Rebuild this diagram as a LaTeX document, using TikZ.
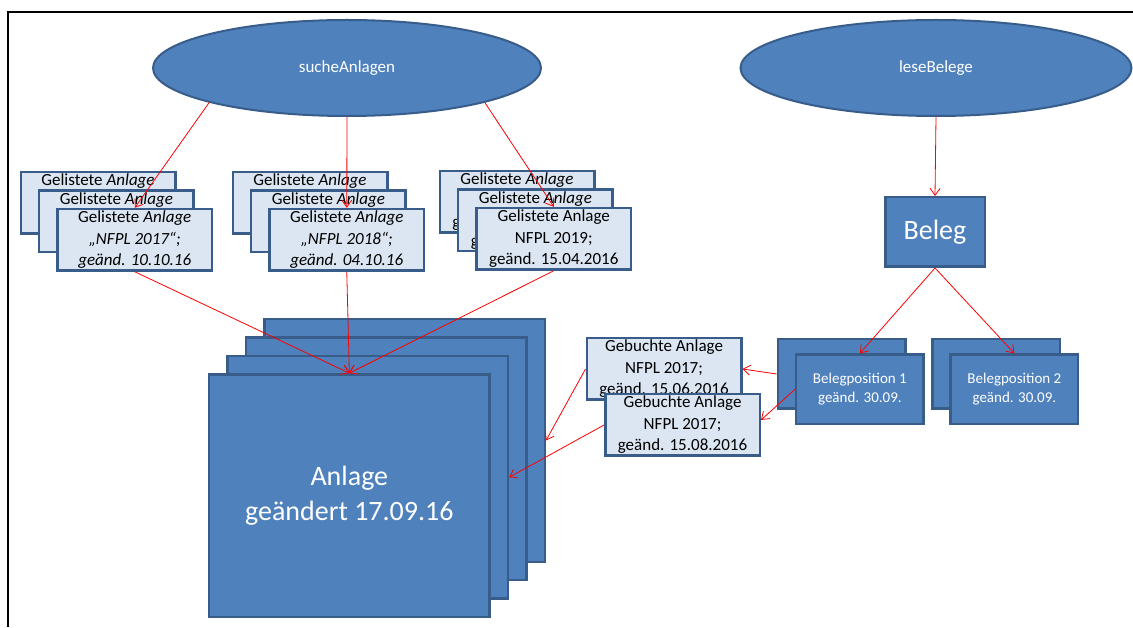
\documentclass[tikz,border=0pt]{standalone}
\usepackage{fontspec}
\setmainfont{Carlito}
\usetikzlibrary{shapes.geometric, arrows.meta}
\definecolor{boxblue}{HTML}{4F81BD}
\definecolor{boxline}{HTML}{385D8A}
\definecolor{boxlight}{HTML}{DCE6F2}
\tikzstyle{method} = [ellipse, minimum width=388pt, minimum height=96pt, inner sep=0pt, text centered, fill=boxblue, draw=boxline, line width=2pt, text=white, font=\fontsize{17}{20}\selectfont]
\tikzstyle{listed} = [rectangle, minimum width=154.5pt, minimum height=61.5pt, inner sep=0pt, align=center, fill=boxlight, draw=boxline, line width=2.5pt, font=\fontsize{17}{21.5}\selectfont]
\tikzstyle{position} = [rectangle, minimum width=127.5pt, minimum height=69.5pt, inner sep=0pt, align=center, fill=boxblue, draw=boxline, line width=2.5pt, text=white, font=\fontsize{15}{19}\selectfont]
\tikzstyle{voucher} = [position, minimum width=99.5pt, font=\fontsize{28}{34}\selectfont]
\tikzstyle{asset} = [rectangle, minimum width=280.5pt, minimum height=242.5pt, inner sep=0pt, align=center, fill=boxblue, draw=boxline, line width=2.5pt, text=white, font=\fontsize{28}{35}\selectfont]
\tikzstyle{arrow} = [red, line width=0.8pt, -{Straight Barb[length=7pt,width=10pt]}]

\begin{document}
\begin{tikzpicture}[x=1pt, y=1pt, node distance=26pt]
\useasboundingbox (0,0) rectangle (1133,627);

% Frame
\draw [line width=1.5pt] (8,0) -- (8,615) -- (1133,615);

% Methods
\node (such) [method] at (347,559) {sucheAnlagen};
\node (lese) [method, minimum width=391pt] at (936,559) {leseBelege};

% Anlage stack
\node (anl1) [asset] at (404.5,186.5) {};
\node (anl2) [asset, below left of=anl1] {};
\node (anl3) [asset, below left of=anl2] {};
\node (anl4) [asset, below left of=anl3] {Anlage\\geändert 17.09.16};

% Gelistete Anlagen
\node (glA1) [listed] at (98,424) {Gelistete \textit{Anlage}\\\textit{„NFPL 2017“;}\\\textit{geänd. 10.10.16}};
\node (glA2) [listed, below right of=glA1] {Gelistete \textit{Anlage}\\\textit{„NFPL 2017“;}\\\textit{geänd. 10.10.16}};
\node (glA3) [listed, below right of=glA2] {Gelistete \textit{Anlage}\\\textit{„NFPL 2017“;}\\\textit{geänd. 10.10.16}};
\node (glB1) [listed] at (310,424) {Gelistete \textit{Anlage}\\\textit{„NFPL 2018“;}\\\textit{geänd. 04.10.16}};
\node (glB2) [listed, below right of=glB1] {Gelistete \textit{Anlage}\\\textit{„NFPL 2018“;}\\\textit{geänd. 04.10.16}};
\node (glB3) [listed, below right of=glB2] {Gelistete \textit{Anlage}\\\textit{„NFPL 2018“;}\\\textit{geänd. 04.10.16}};
\node (glC1) [listed] at (517,425) {Gelistete \textit{Anlage}\\NFPL 2019;\\geänd. 15.04.2016};
\node (glC2) [listed, below right of=glC1] {Gelistete \textit{Anlage}\\NFPL 2019;\\geänd. 15.04.2016};
\node (glC3) [listed, below right of=glC2] {Gelistete Anlage\\NFPL 2019;\\geänd. 15.04.2016};

% Beleg
\node (beleg) [voucher] at (935,395) {Beleg};
\node (bp1b) [position] at (841.5,253) {Belegposition 1\\geänd. 30.09.};
\node (bp1) [position, below right of=bp1b, yshift=3pt] {Belegposition 1\\geänd. 30.09.};
\node (bp2b) [position] at (996,253) {Belegposition 2\\geänd. 30.09.};
\node (bp2) [position, below right of=bp2b, yshift=3pt] {Belegposition 2\\geänd. 30.09.};

% Gebuchte Anlagen
\node (gb1) [listed] at (664,258) {Gebuchte Anlage\\NFPL 2017;\\geänd. 15.06.2016};
\node (gb2) [listed] at (682.5,202) {Gebuchte Anlage\\NFPL 2017;\\geänd. 15.08.2016};

% Arrows
\draw [arrow] (such.south west) -- (glA3.north);
\draw [arrow] (such.south) -- (glB3.north);
\draw [arrow] (such.south east) -- (glC3.north);
\draw [arrow] (glA3.south) -- (anl4.north);
\draw [arrow] (glB3.south) -- (anl4.north);
\draw [arrow] (glC3.south) -- (anl4.north);
\draw [arrow] (lese.south) -- (beleg.north);
\draw [arrow] (beleg.south) -- (bp1.north);
\draw [arrow] (beleg.south) -- (bp2.north);
\draw [arrow] (bp1b.west) -- (gb1.east);
\draw [arrow] (bp1.west) -- ([yshift=5pt]gb2.east);
\draw [arrow] (gb1.west) -- (anl1.east);
\draw [arrow] (gb2.west) -- (anl3.east);

\end{tikzpicture}
\end{document}
